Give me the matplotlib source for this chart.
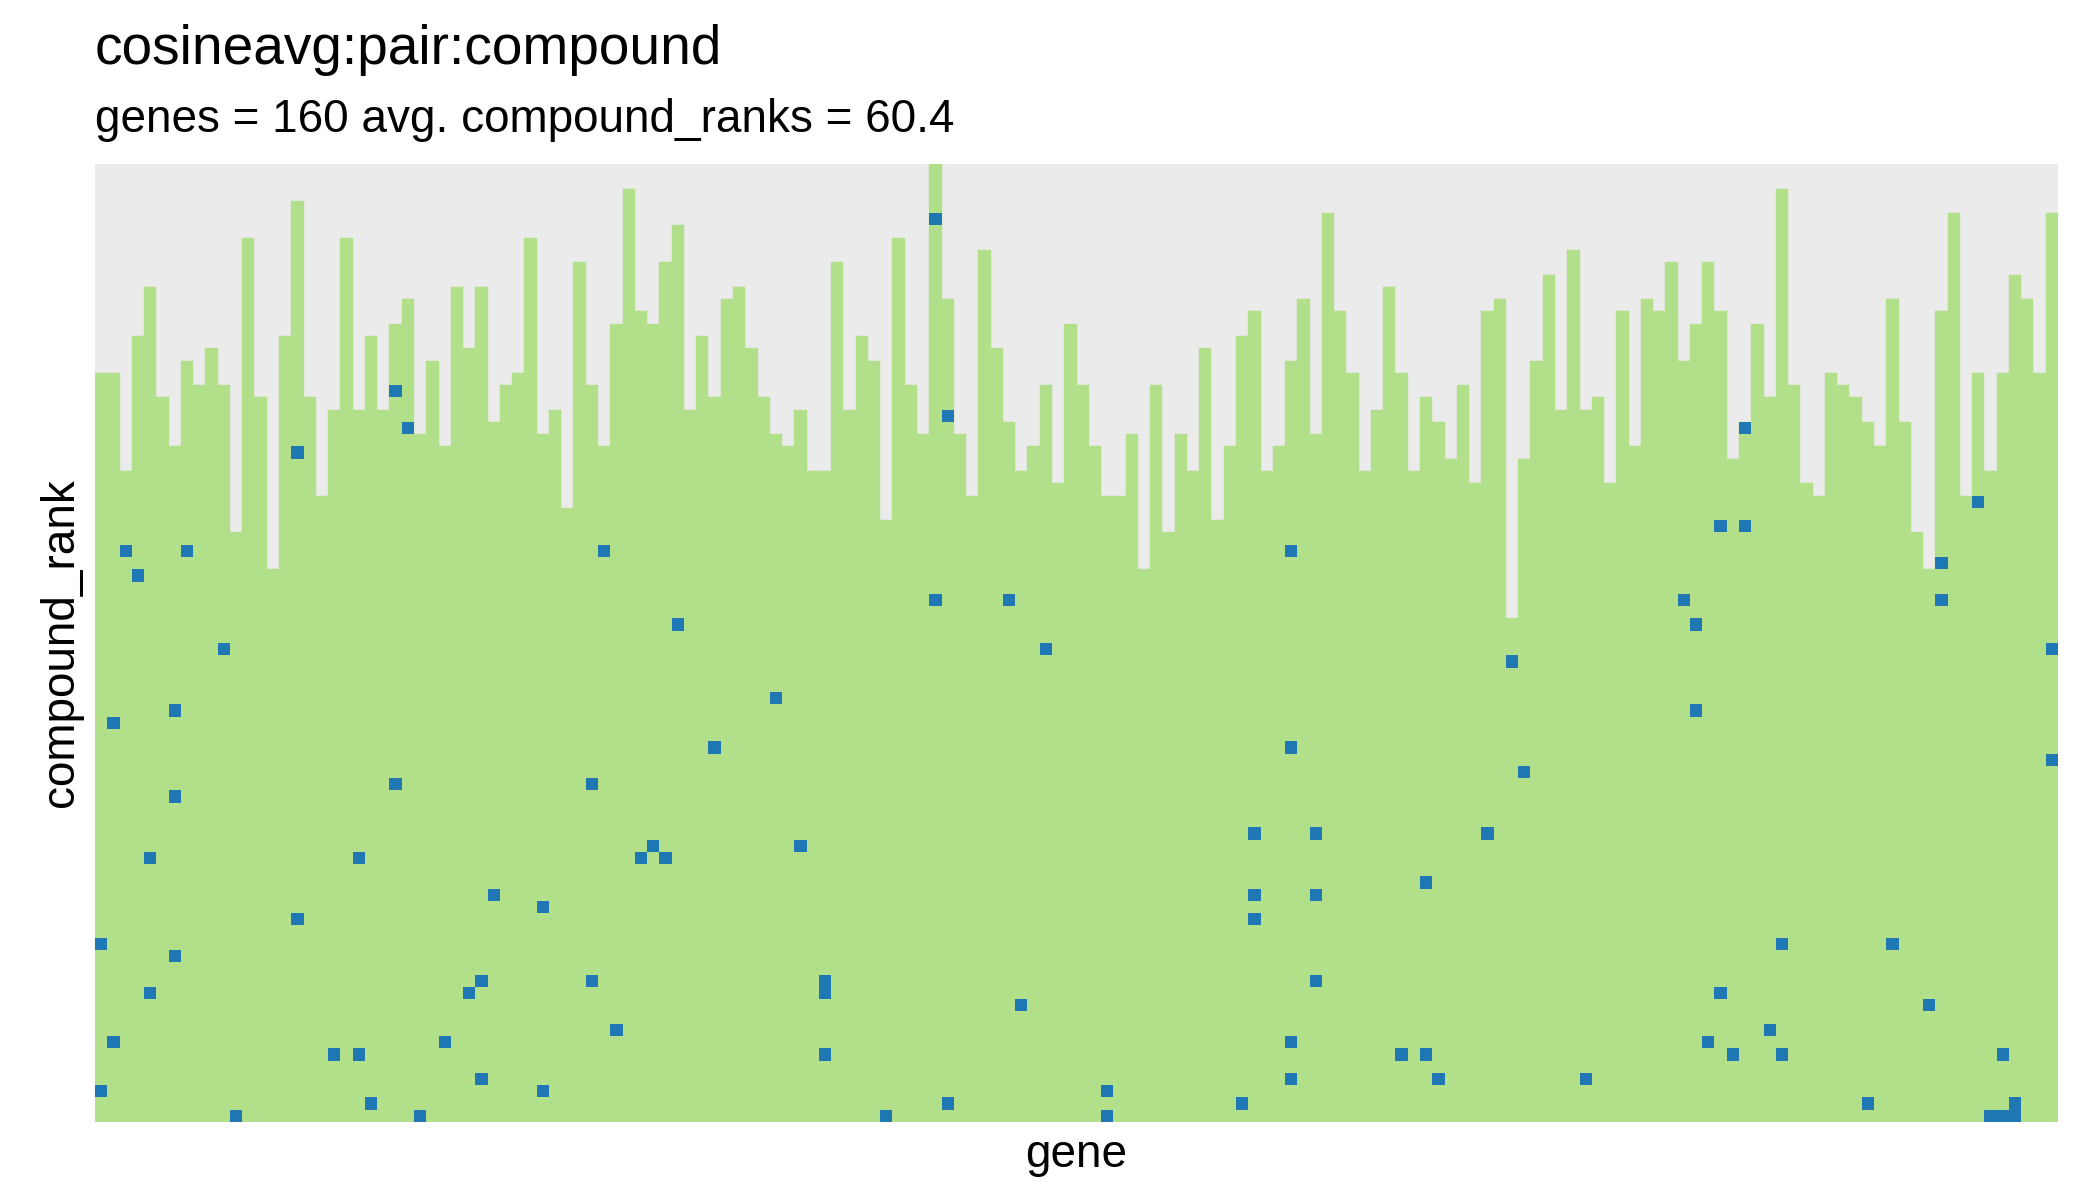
import matplotlib
matplotlib.use("Agg")
import matplotlib.pyplot as plt

# number of ranked compounds per gene (bar height), one entry per gene
n_compounds = [
    61, 61, 53, 64, 68, 59, 55, 62, 60, 63,
    60, 48, 72, 59, 45, 64, 75, 59, 51, 58,
    72, 58, 64, 58, 65, 67, 56, 62, 55, 68,
    63, 68, 57, 60, 61, 72, 56, 58, 50, 70,
    60, 55, 65, 76, 66, 65, 70, 73, 58, 64,
    59, 67, 68, 63, 59, 56, 55, 58, 53, 53,
    70, 58, 64, 62, 49, 72, 60, 56, 78, 67,
    56, 51, 71, 63, 57, 53, 55, 60, 52, 65,
    60, 55, 51, 51, 56, 45, 60, 48, 56, 53,
    63, 49, 55, 64, 66, 53, 55, 62, 67, 56,
    74, 66, 61, 53, 58, 68, 61, 53, 59, 57,
    54, 60, 52, 66, 67, 41, 54, 62, 69, 58,
    71, 58, 59, 52, 66, 55, 67, 66, 70, 62,
    65, 70, 66, 54, 57, 65, 59, 76, 60, 52,
    51, 61, 60, 59, 57, 55, 67, 57, 48, 45,
    66, 74, 51, 61, 53, 61, 69, 67, 61, 74,
]

# highlighted pairs: gene index and compound rank
hit_gene = [
    2, 7, 3, 10, 6, 1, 6, 4, 16, 16, 0, 6, 4, 1, 19, 0, 11,
    24, 25, 24, 40, 21, 32, 36, 31, 40, 30, 28, 21, 31, 36, 22, 26,
    41, 47, 55, 50, 45, 44, 46, 57, 59, 59, 42, 59,
    68, 69, 68, 74, 77, 75, 69, 64,
    97, 97, 94, 99, 94, 99, 94, 99, 97, 97, 82, 82, 93,
    115, 116, 113, 108, 106, 108, 109,
    134, 132, 134, 129, 130, 130, 137, 132, 136, 131, 133, 137, 121,
    153, 150, 150, 159, 159, 146, 149, 155, 144, 156, 154, 155, 156,
]
hit_rank = [
    47, 47, 45, 39, 34, 33, 27, 22, 55, 17, 15, 14, 11, 7, 6, 3, 1,
    60, 57, 28, 28, 22, 19, 18, 12, 12, 11, 7, 6, 4, 3, 2, 1,
    47, 41, 35, 31, 23, 22, 22, 23, 12, 11, 8, 6,
    74, 58, 43, 43, 39, 10, 2, 1,
    47, 31, 24, 24, 19, 19, 17, 12, 7, 4, 3, 1, 2,
    38, 29, 24, 20, 6, 6, 4,
    57, 49, 49, 43, 41, 34, 15, 11, 8, 7, 6, 6, 4,
    51, 46, 43, 39, 30, 15, 10, 6, 2, 2, 1, 1, 1,
]

title = "cosineavg:pair:compound"
genes = list(range(len(n_compounds)))
avg_ranks = sum(n_compounds) / len(n_compounds)
subtitle = f"genes = {len(genes)} avg. compound_ranks = {avg_ranks:.1f}"

plt.rcParams["font.family"] = ["Liberation Sans", "DejaVu Sans"]

fig = plt.figure(figsize=(20.99, 12.0), dpi=100)
ax = fig.add_axes([95 / 2099, 78 / 1200, 1963 / 2099, 958 / 1200])
ax.set_facecolor("#ebebeb")

ax.bar(genes, n_compounds, width=1.0, bottom=0, color="#b2df8a",
       edgecolor="#b2df8a", linewidth=0.3)
ax.bar(hit_gene, [1] * len(hit_gene), width=1.0,
       bottom=[r - 1 for r in hit_rank], color="#1f78b4", linewidth=0)

ax.set_xlim(-0.5, len(genes) - 0.5)
ax.set_ylim(0, max(n_compounds))
ax.set_xticks([])
ax.set_yticks([])
for s in ax.spines.values():
    s.set_visible(False)

fig.text(95 / 2099, 1 - 64 / 1200, title, fontsize=39.6, ha="left", va="baseline")
fig.text(95 / 2099, 1 - 132 / 1200, subtitle, fontsize=33, ha="left", va="baseline")
fig.text(61 / 2099, 1 - 643 / 1200, "compound_rank", fontsize=33, rotation=90,
         ha="center", va="center")
fig.text(1076 / 2099, 1 - 1167 / 1200, "gene", fontsize=33, ha="center", va="baseline")

fig.savefig("out.png", dpi=100, facecolor="white")
